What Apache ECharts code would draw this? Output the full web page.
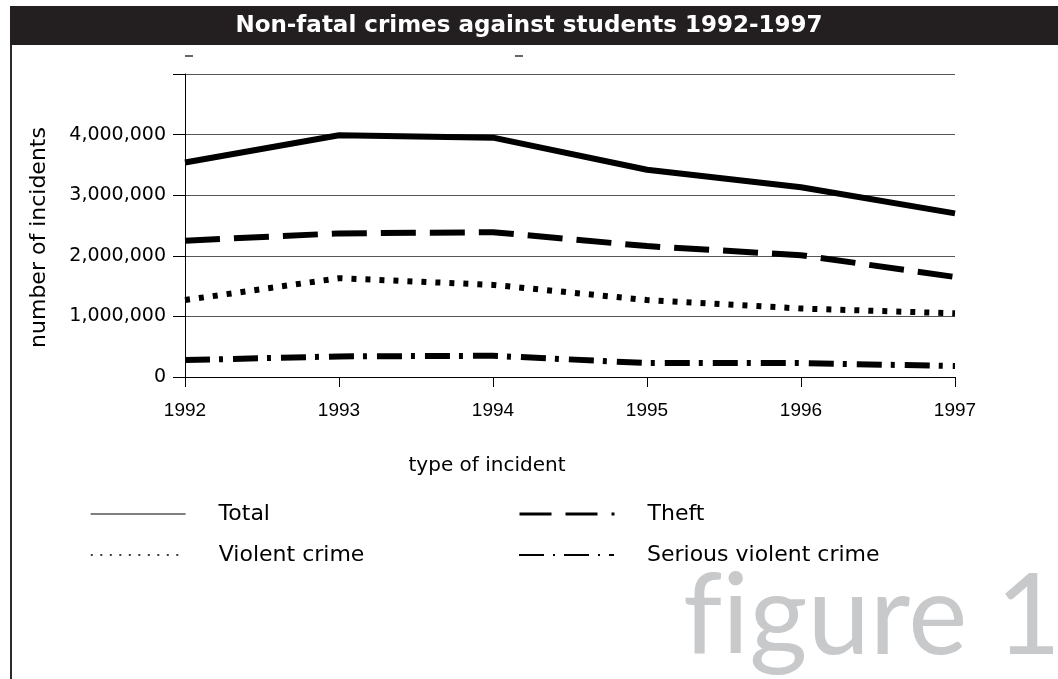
<!DOCTYPE html>
<html>
<head>
<meta charset="utf-8">
<title>Non-fatal crimes against students 1992-1997</title>
<script src="https://cdn.jsdelivr.net/npm/echarts@6/dist/echarts.min.js"></script>
<style>
  html, body { margin: 0; padding: 0; background: #ffffff; }
  #chart { width: 1058px; height: 679px; }
</style>
</head>
<body>
<div id="chart"></div>
<script>
// Years on the horizontal axis
const years = ['1992', '1993', '1994', '1995', '1996', '1997'];

// Number of incidents per year
const totalIncidents   = [3540000, 3990000, 3950000, 3420000, 3130000, 2700000];
const theftIncidents   = [2250000, 2370000, 2390000, 2160000, 2010000, 1650000];
const violentIncidents = [1270000, 1630000, 1520000, 1270000, 1130000, 1050000];
const seriousIncidents = [280000, 340000, 350000, 230000, 230000, 180000];

// Series names as shown in the legend
const seriesNames = ['Total', 'Theft', 'Violent crime', 'Serious violent crime'];

// Vertical axis range
const yMin = 0;
const yMax = 5000000;
const yStep = 1000000;

const ARIAL = '"Liberation Sans", Arial, sans-serif';
const WIDE = '"DejaVu Sans", "Liberation Sans", sans-serif';
const INK = '#000000';

// Dash patterns: plot lines are heavy, legend samples are thin
const plotDash = {
  'Total': 'solid',
  'Theft': [35, 14],
  'Violent crime': [5, 9],
  'Serious violent crime': [25, 9, 4, 10]
};
const legendLine = {
  'Total': { width: 1.2, type: 'solid' },
  'Theft': { width: 3, type: [32, 14] },
  'Violent crime': { width: 1.6, type: [2, 7.5] },
  'Serious violent crime': { width: 2, type: [25, 9, 2, 9] }
};
const seriesValues = [totalIncidents, theftIncidents, violentIncidents, seriousIncidents];

function lineSeries(name, values) {
  return {
    name: name,
    type: 'line',
    data: values,
    symbol: 'none',
    silent: true,
    lineStyle: { color: INK, width: 6, type: plotDash[name], cap: 'butt', join: 'round' },
    itemStyle: { color: INK }
  };
}

// One legend block per entry so the two columns line up
function legendAt(name, left, top) {
  return {
    data: [{ name: name, lineStyle: Object.assign({ color: INK }, legendLine[name]) }],
    left: left,
    top: top,
    padding: 0,
    itemWidth: 95,
    itemHeight: 14,
    selectedMode: false,
    itemStyle: { opacity: 0 },
    textStyle: { fontFamily: WIDE, fontSize: 22, color: INK, padding: [0, 0, 0, 28] }
  };
}

function formatThousands(v) {
  return String(v).replace(/\B(?=(\d{3})+(?!\d))/g, ',');
}

const chart = echarts.init(document.getElementById('chart'), null, { renderer: 'canvas' });

chart.setOption({
  animation: false,
  backgroundColor: '#ffffff',
  title: {
    text: 'Non-fatal crimes against students 1992-1997',
    left: 'center',
    top: 15,
    padding: 0,
    textStyle: { fontFamily: WIDE, fontWeight: 'bold', fontSize: 23, color: '#ffffff' }
  },
  graphic: [
    // dark title band and left frame rule
    { type: 'rect', z: -1, shape: { x: 10, y: 6, width: 1048, height: 39 }, style: { fill: '#231f20' } },
    { type: 'rect', z: -1, shape: { x: 10, y: 45, width: 2, height: 634 }, style: { fill: '#2b2b2b' } },
    // small stray marks under the band
    { type: 'rect', shape: { x: 185, y: 55, width: 8, height: 2 }, style: { fill: '#666666' } },
    { type: 'rect', shape: { x: 515, y: 55, width: 8, height: 2 }, style: { fill: '#666666' } },
    // large figure caption (ZWNJ keeps "f" and "i" as separate glyphs)
    {
      type: 'text', z: -2, left: 683, top: 562,
      style: { text: 'f\u200Cigure 1', fill: '#c8c9cb', font: '112px Lato, "Open Sans", sans-serif' }
    }
  ],
  grid: { left: 185, right: 103, top: 74, bottom: 302, containLabel: false },
  legend: [
    legendAt(seriesNames[0], 90, 503),
    legendAt(seriesNames[1], 518, 503),
    legendAt(seriesNames[2], 90, 544),
    legendAt(seriesNames[3], 518, 544)
  ],
  xAxis: {
    type: 'category',
    data: years,
    boundaryGap: false,
    name: 'type of incident',
    nameLocation: 'middle',
    nameGap: 79,
    nameTextStyle: { fontFamily: WIDE, fontSize: 20, color: INK, padding: [0, 166, 0, 0] },
    axisLine: { show: true, lineStyle: { color: INK, width: 1 } },
    axisTick: { show: true, length: 10, lineStyle: { color: INK } },
    axisLabel: { fontFamily: ARIAL, fontSize: 19, color: INK, margin: 24 },
    splitLine: { show: false }
  },
  yAxis: {
    type: 'value',
    min: yMin,
    max: yMax,
    interval: yStep,
    name: 'number of incidents',
    nameLocation: 'middle',
    nameGap: 135,
    nameRotate: 90,
    nameTextStyle: { fontFamily: WIDE, fontSize: 22, color: INK, padding: [0, 24, 0, 0] },
    axisLine: { show: true, lineStyle: { color: INK, width: 1 } },
    axisTick: { show: true, length: 12, lineStyle: { color: INK } },
    axisLabel: {
      fontFamily: WIDE, fontSize: 19, color: INK, margin: 19,
      formatter: function (v) { return v === yMax ? '' : formatThousands(v); }
    },
    splitLine: { show: true, lineStyle: { color: '#555555', width: 1 } }
  },
  series: seriesNames.map(function (n, i) { return lineSeries(n, seriesValues[i]); })
});
</script>
</body>
</html>
